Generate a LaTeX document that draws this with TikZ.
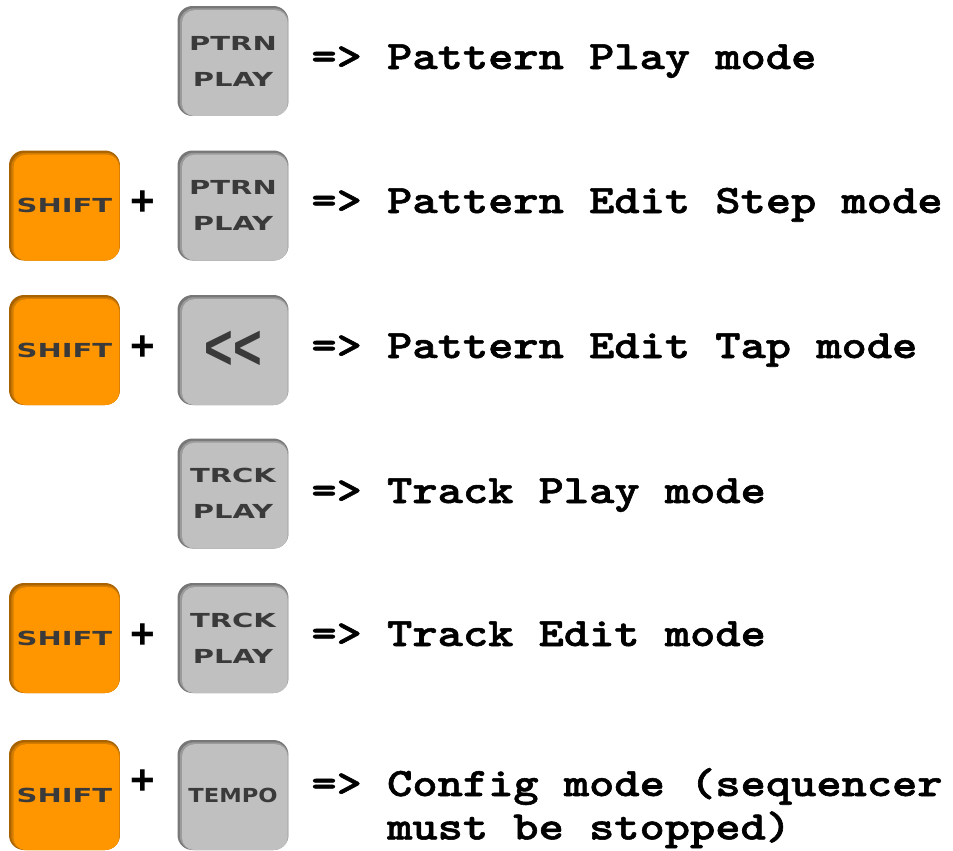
\documentclass[tikz,border=0pt]{standalone}
\usepackage{fontspec}
\usepackage{tikz}
\usetikzlibrary{calc}
\newfontfamily\keyfont{DejaVu Sans}
\newfontfamily\plusfont{Liberation Sans}
\newfontfamily\modefont{lmmonolt10-bold.otf}[FakeBold=1.3]
\definecolor{keygray}{HTML}{C0C0C0}
\definecolor{keygrayshade}{HTML}{777777}
\definecolor{keyorange}{HTML}{FF9600}
\definecolor{keyorangeshade}{HTML}{A86300}
\definecolor{keyink}{HTML}{3A3A3A}

\tikzset{
  keycap/.style 2 args={rounded corners=8.5pt, minimum width=2.22cm, minimum height=2.2cm,
    inner sep=0pt, fill=#2, align=center, text=keyink,
    path picture={
      \fill[#1, opacity=.5, rounded corners=8pt]
        ([xshift=1.3pt,yshift=-1.3pt]path picture bounding box.north west)
        rectangle (path picture bounding box.south east);
      \fill[#1, rounded corners=7pt]
        ([xshift=2.6pt,yshift=-2.4pt]path picture bounding box.north west)
        rectangle ([xshift=-0.5pt]path picture bounding box.south east);
    }},
  graykey/.style={keycap={keygray}{keygrayshade}},
  shiftkey/.style={keycap={keyorange}{keyorangeshade}},
  keytext/.style={text=keyink, inner sep=0pt, font=\keyfont\bfseries\fontsize{11}{20.5}\selectfont, align=center, xscale=1.5},
  plus/.style={font=\plusfont\bfseries\fontsize{24}{24}\selectfont, inner sep=0pt},
  modetext/.style={anchor=base west, inner sep=0pt, xscale=1.19, font=\modefont\fontsize{23}{27}\selectfont}
}

\begin{document}
\begin{tikzpicture}[x=0.02cm, y=-0.02cm]
    \useasboundingbox (0,0) rectangle (953,850);
    % pattern play
    \node[graykey] (k1) at (233,61) {};
    \node[keytext] (l1) at (k1) {PTRN\\PLAY};
    \node[modetext] (m1) at (311,69) {=> Pattern Play mode};
    % pattern edit step
    \node[shiftkey] (s2) at (64.5,205.5) {};
    \node[keytext] (ls2) at (s2) {SHIFT};
    \node[plus] (p2) at (143,203) {+};
    \node[graykey] (k2) at (233,205.5) {};
    \node[keytext] (l2) at (k2) {PTRN\\PLAY};
    \node[modetext] (m2) at (311,213) {=> Pattern Edit Step mode};
    % pattern edit tap
    \node[shiftkey] (s3) at (64.5,350) {};
    \node[keytext] (ls3) at (s3) {SHIFT};
    \node[plus] (p3) at (143,348) {+};
    \node[graykey] (k3) at (233,350) {};
    \node[text=keyink, inner sep=0pt, font=\plusfont\bfseries\fontsize{28}{28}\selectfont, yscale=1.3] (l3) at (k3) {<<};
    \node[modetext] (m3) at (311,358) {=> Pattern Edit Tap mode};
    % track play
    \node[graykey] (k4) at (233,493.5) {};
    \node[keytext] (l4) at (k4) {TRCK\\PLAY};
    \node[modetext] (m4) at (311,503) {=> Track Play mode};
    % track edit
    \node[shiftkey] (s5) at (64.5,638) {};
    \node[keytext] (ls5) at (s5) {SHIFT};
    \node[plus] (p5) at (143,636) {+};
    \node[graykey] (k5) at (233,638) {};
    \node[keytext] (l5) at (k5) {TRCK\\PLAY};
    \node[modetext] (m5) at (311,646) {=> Track Edit mode};
    % config
    \node[shiftkey] (s6) at (64.5,795) {};
    \node[keytext] (ls6) at (s6) {SHIFT};
    \node[plus] (p6) at (143,782) {+};
    \node[graykey] (k6) at (233,795) {};
    \node[keytext, xscale=0.78] (l6) at (k6) {TEMPO};
    \node[modetext] (m6) at (311,796) {=> Config mode (sequencer};
    \node[modetext] (m6b) at ([yshift=-24.7pt]m6.base west) {\hphantom{=> }must be stopped)};
\end{tikzpicture}
\end{document}
